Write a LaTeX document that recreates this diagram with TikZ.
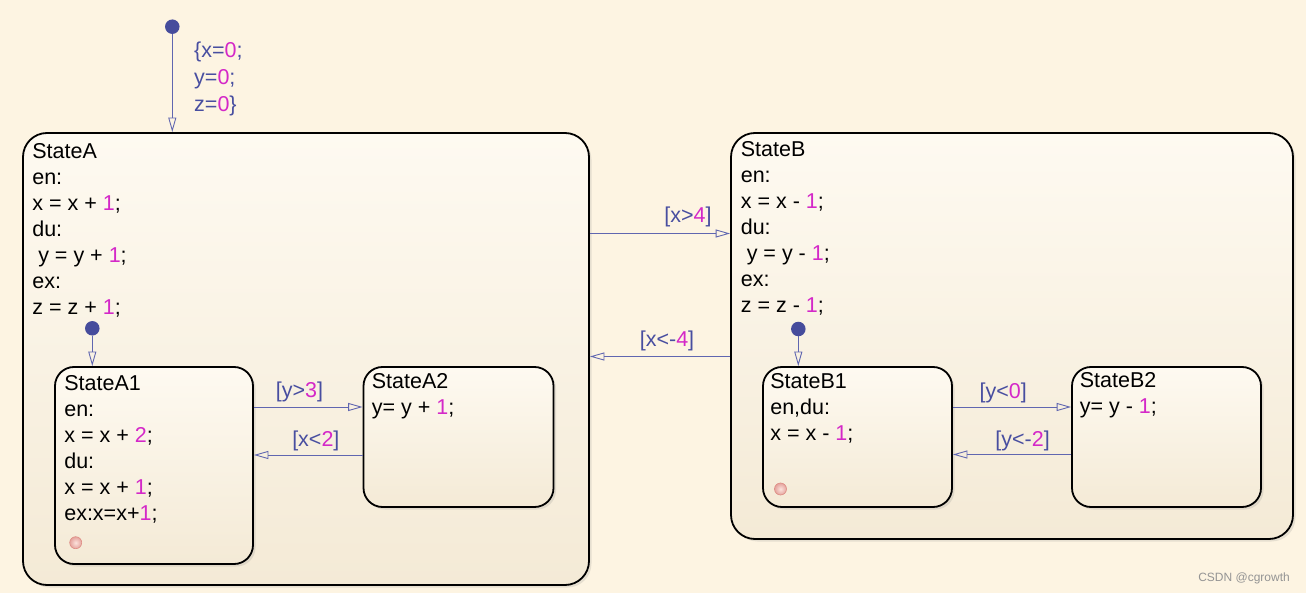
\documentclass[tikz,border=0pt]{standalone}
\usepackage{fontspec}
\setmainfont{Liberation Sans}
\usetikzlibrary{arrows.meta,shadows}

\definecolor{paper}{RGB}{253,244,226}
\definecolor{boxtop}{RGB}{254,250,241}
\definecolor{boxbot}{RGB}{244,234,214}
\definecolor{trblue}{RGB}{96,102,176}
\definecolor{lblblue}{RGB}{72,78,160}
\definecolor{numpink}{RGB}{212,40,200}
\definecolor{dotblue}{RGB}{70,76,156}
\definecolor{histin}{RGB}{252,226,220}
\definecolor{histout}{RGB}{222,140,132}
\newcommand{\num}[1]{\textcolor{numpink}{#1}}

\tikzset{
  statebox/.style={draw=black, line width=1.8pt, top color=boxtop, bottom color=boxbot,
    drop shadow={opacity=0.18, shadow xshift=2.5pt, shadow yshift=-2.5pt}, inner sep=0pt},
  % anchored at the baseline of the last line
  statetext/.style={anchor=base west, align=left, inner sep=0pt,
    font=\fontsize{21.5}{26}\selectfont},
  trans/.style={draw=trblue, line width=0.9pt, -{Triangle[open, length=14.5pt, width=8pt]}},
  lbl/.style={text=lblblue, anchor=base, inner sep=0pt, font=\fontsize{21.5}{26}\selectfont},
  initdot/.style={circle, fill=dotblue, inner sep=0pt, minimum size=14.5pt},
  histdot/.style={circle, draw=histout, line width=0.6pt, inner color=histin, outer color=histout!80,
    inner sep=0pt, minimum size=12pt}
}

\begin{document}
\begin{tikzpicture}[x=1pt,y=-1pt]
\fill[paper] (0,0) rectangle (1306,593);
\useasboundingbox (0,0) rectangle (1306,593);

% outer states
\node[statebox, rounded corners=24pt, minimum width=566pt, minimum height=452pt] (stateA) at (306,359) {};
\node[statebox, rounded corners=24pt, minimum width=562pt, minimum height=406pt] (stateB) at (1012,336) {};

\node[statetext] (txtA) at ([xshift=10pt, yshift=-182pt]stateA.north west)
  {StateA\\en:\\x = x + \num{1};\\du:\\\ y = y + \num{1};\\ex:\\z = z + \num{1};};
\node[statetext] (txtB) at ([xshift=10.5pt, yshift=-180.5pt]stateB.north west)
  {StateB\\en:\\x = x - \num{1};\\du:\\\ y = y - \num{1};\\ex:\\z = z - \num{1};};

% inner states
\node[statebox, rounded corners=19pt, minimum width=198pt, minimum height=197pt] (stateA1) at (154,465.5) {};
\node[statebox, rounded corners=19pt, minimum width=190pt, minimum height=140pt] (stateA2) at (458.5,437) {};
\node[statebox, rounded corners=19pt, minimum width=189pt, minimum height=140pt] (stateB1) at (857.5,437) {};
\node[statebox, rounded corners=19pt, minimum width=189pt, minimum height=140pt] (stateB2) at (1166.5,437) {};

\node[statetext] (txtA1) at ([xshift=10pt, yshift=-154pt]stateA1.north west)
  {StateA1\\en:\\x = x + \num{2};\\du:\\x = x + \num{1};\\ex:x=x+\num{1};};
\node[statetext] (txtA2) at ([xshift=9pt, yshift=-48.5pt]stateA2.north west)
  {StateA2\\y= y + \num{1};};
\node[statetext] (txtB1) at ([xshift=8pt, yshift=-74pt]stateB1.north west)
  {StateB1\\en,du:\\x = x - \num{1};};
\node[statetext] (txtB2) at ([xshift=8.5pt, yshift=-47.5pt]stateB2.north west)
  {StateB2\\y= y - \num{1};};

\node[histdot] (histA1) at (75.7,542.7) {};
\node[histdot] (histB1) at (780.5,489) {};

% default transitions
\node[initdot] (init0) at (172.3,26.7) {};
\node[initdot] (initA) at (92.3,328.3) {};
\node[initdot] (initB) at (798.3,329) {};
\draw[trans] (init0) -- (stateA.north -| init0);
\draw[trans] (initA) -- (stateA1.north -| initA);
\draw[trans] (initB) -- (stateB1.north -| initB);
\node[statetext, text=lblblue, font=\fontsize{21.5}{27}\selectfont] (initlbl) at (194,112)
  {\{x=\num{0};\\y=\num{0};\\z=\num{0}\}};

% transitions
\draw[trans] (stateA.east |- 0,233.5) -- node[lbl, pos=0.70, yshift=10.5pt] {[x>\num{4}]} (stateB.west |- 0,233.5);
\draw[trans] (stateB.west |- 0,356.5) -- node[lbl, pos=0.45, yshift=10pt] {[x<-\num{4}]} (stateA.east |- 0,356.5);
\draw[trans] (stateA1.east |- 0,407) -- node[lbl, pos=0.42, yshift=10pt] {[y>\num{3}]} (stateA2.west |- 0,407);
\draw[trans] (stateA2.west |- 0,455) -- node[lbl, pos=0.43, yshift=8.5pt] {[x<\num{2}]} (stateA1.east |- 0,455);
\draw[trans] (stateB1.east |- 0,407) -- node[lbl, pos=0.425, yshift=9pt] {[y<\num{0}]} (stateB2.west |- 0,407);
\draw[trans] (stateB2.west |- 0,454.5) -- node[lbl, pos=0.41, yshift=8pt] {[y<-\num{2}]} (stateB1.east |- 0,454.5);

\node[anchor=base east, inner sep=0pt, text=black!42, font=\fontsize{12}{14}\selectfont] (mark) at (1290,581) {CSDN @cgrowth};
\end{tikzpicture}
\end{document}
